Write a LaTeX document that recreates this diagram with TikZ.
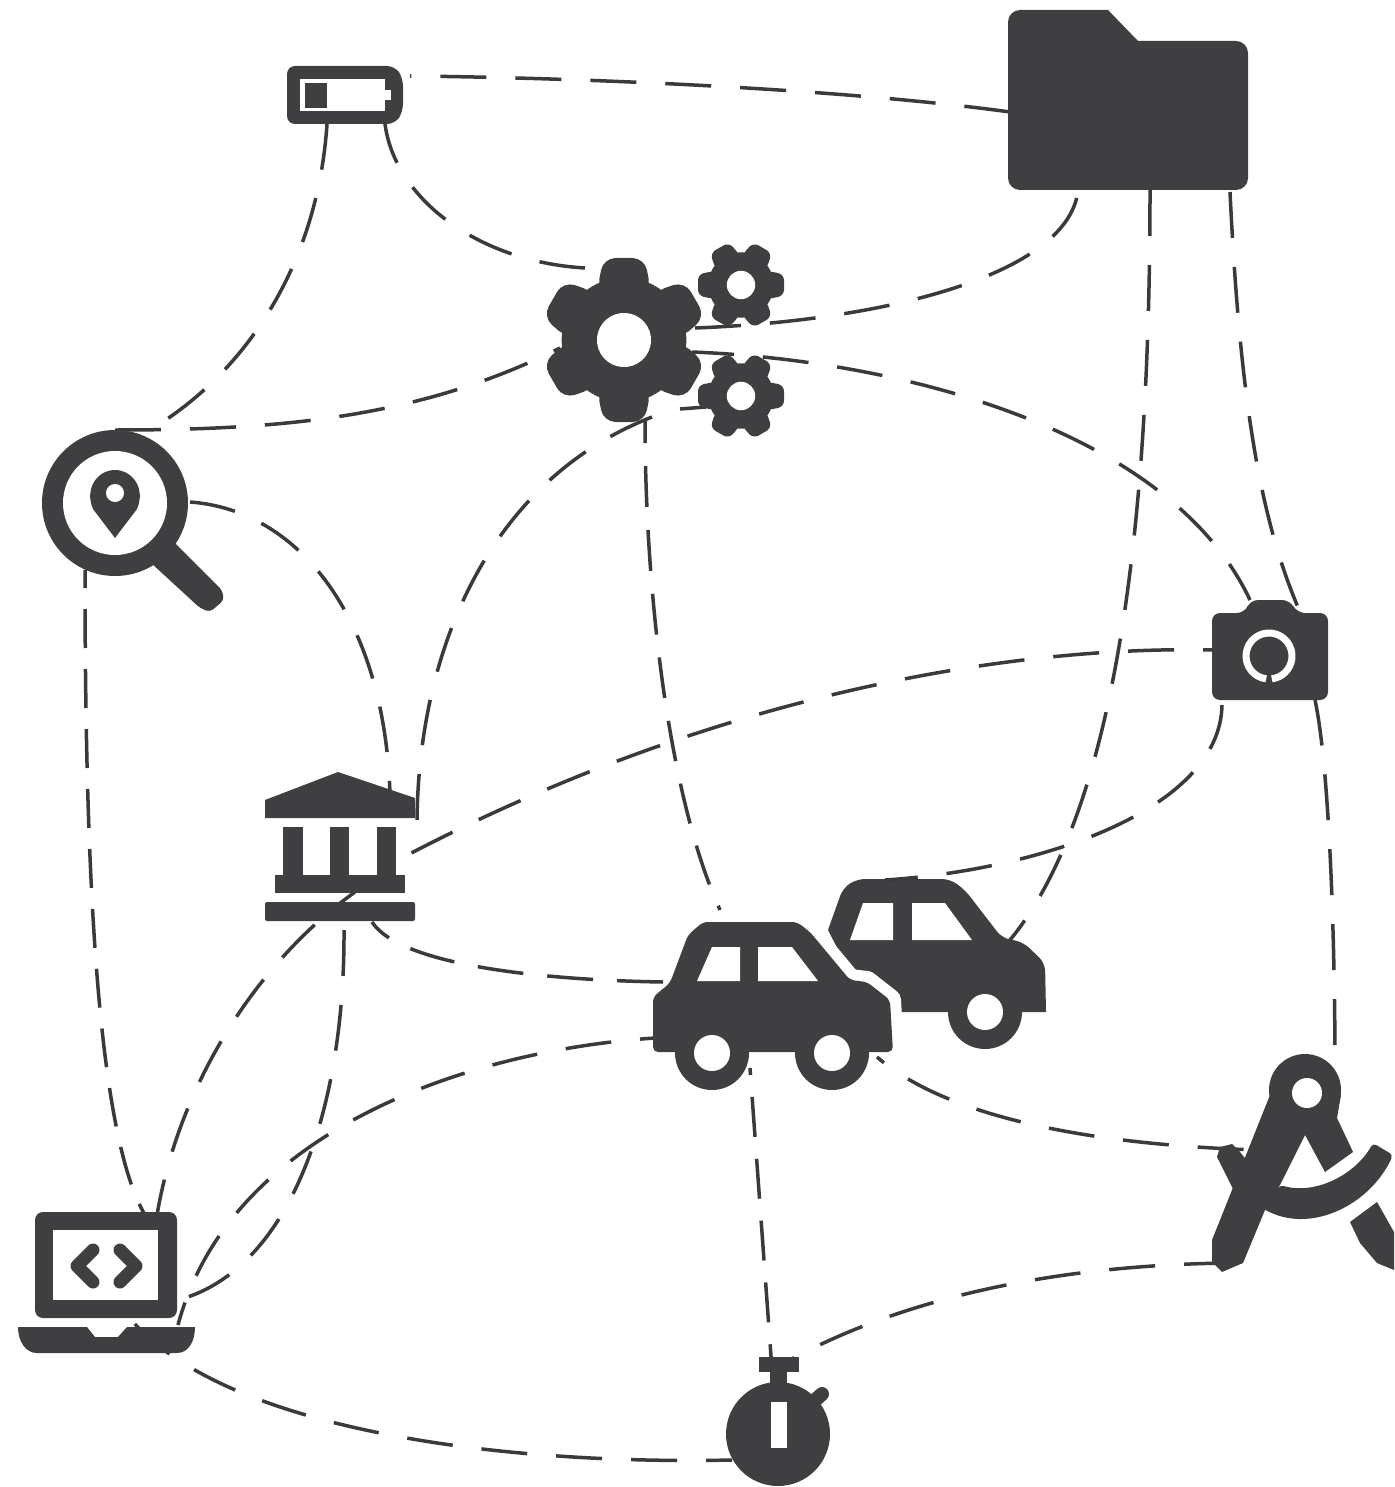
\documentclass[tikz,border=0pt]{standalone}
\usepackage{xcolor}
\definecolor{iconcol}{HTML}{3F3E41}
\definecolor{linkcol}{HTML}{3A3A3C}
\tikzset{
  link/.style={draw=linkcol, line width=3.5pt, dash pattern=on 46pt off 29pt},
  shortlink/.style={link, dash pattern=on 40pt off 22pt},
  icon/.style={fill=iconcol},
  hole/.style={fill=white},
  iconbox/.style={inner sep=0pt, outer sep=0pt},
}
\newcommand{\gearicon}[4]{%
  \begin{scope}[shift={(#1)}, scale=#2, rotate=#3]
    \fill[icon] (0,0) circle (0.76);
    \foreach \a in {0,60,...,300}
      \fill[icon, rounded corners=#4pt, rotate=\a] (0.6,-0.33) -- (1,-0.25) -- (1,0.25) -- (0.6,0.33) -- cycle;
    \fill[hole] (0,0) circle (0.33);
  \end{scope}
}
\newcommand{\wheelicon}[1]{%
  \fill[icon] (#1) circle (37);
  \fill[hole] (#1) circle (18);
}
\begin{document}
\begin{tikzpicture}[x=1pt, y=-1pt]
  \useasboundingbox (0,0) rectangle (1394,1487);
  \clip (0,0) rectangle (1394,1487);

  \node[iconbox, minimum width=114pt, minimum height=58pt] (battery) at (345,95) {};
  \node[iconbox, minimum width=240pt, minimum height=180pt] (folder) at (1128,100) {};
  \node[iconbox, minimum width=242pt, minimum height=192pt] (gears) at (664,341) {};
  \node[iconbox, minimum width=146pt, minimum height=146pt] (lens) at (115,503) {};
  \node[iconbox, minimum width=116pt, minimum height=100pt] (camera) at (1270,650) {};
  \node[iconbox, minimum width=150pt, minimum height=152pt] (bank) at (340,846) {};
  \node[iconbox, minimum width=241pt, minimum height=168pt] (carfront) at (772,1006) {};
  \node[iconbox, minimum width=216pt, minimum height=170pt] (carback) at (938,963) {};
  \node[iconbox, minimum width=179pt, minimum height=222pt] (compass) at (1304,1161) {};
  \node[iconbox, minimum width=176pt, minimum height=142pt] (laptop) at (106,1283) {};
  \node[iconbox, minimum width=107pt, minimum height=130pt] (watch) at (778,1422) {};

  % back car
  \fill[icon, rounded corners=8pt] (828,930) -- (843,888) -- (857,879) -- (950,879) -- (965,890) -- (1002,938) -- (1023,942) -- (1045,963) [sharp corners] -- (1046,1012) -- (870,1012) -- cycle;
  \fill[hole] (863,903) -- (893,903) -- (893,940) -- (850,940) -- cycle;
  \fill[hole] (912,903) -- (945,903) -- (972,940) -- (912,940) -- cycle;
  \wheelicon{985,1012}
  \draw[white, line width=22pt, line join=round] (653,1052) -- (653,997) -- (670,983) -- (688,935) -- (703,922) -- (797,922) -- (810,932) -- (850,980) -- (867,982) -- (890,1000) -- (893,1052) -- cycle;

  \draw[link] ([shift={(-118,12)}]folder.center) .. controls (850,90) and (600,78) .. ([shift={(65,-19)}]battery.center);
  \draw[link] ([shift={(-18,29)}]battery.center) .. controls (318,260) and (250,370) .. ([shift={(35,-73)}]lens.center);
  \draw[link] ([shift={(-79,-73)}]gears.center) .. controls (480,262) and (395,200) .. ([shift={(40,29)}]battery.center);
  \draw[link] ([shift={(31,-13)}]gears.center) .. controls (900,320) and (1070,270) .. ([shift={(-50,90)}]folder.center);
  \draw[link] ([shift={(22,90)}]folder.center) .. controls (1150,480) and (1125,800) .. ([shift={(72,-23)}]carback.center);
  \draw[link] ([shift={(102,92)}]folder.center) .. controls (1240,400) and (1260,520) .. ([shift={(30,-38)}]camera.center);
  \draw[link, dash phase=4pt] ([shift={(28,11)}]gears.center) .. controls (900,360) and (1170,430) .. ([shift={(-20,-50)}]camera.center);
  \draw[link, dash phase=39pt] ([shift={(-104,7)}]gears.center) .. controls (420,418) and (280,430) .. ([shift={(0,-73)}]lens.center);
  \draw[link] ([shift={(-12,76)}]gears.center) .. controls (490,480) and (417,650) .. ([shift={(77,-20)}]bank.center);
  \draw[link, dash pattern=on 41pt off 23pt, dash phase=18pt] ([shift={(-19,79)}]gears.center) .. controls (645,600) and (670,800) .. ([shift={(-52,-96)}]carfront.center);
  \draw[link] ([shift={(16,68)}]gears.center) -- ([shift={(42,66)}]gears.center);
  \draw[link] ([shift={(75,-1)}]lens.center) .. controls (300,510) and (385,620) .. ([shift={(50,-51)}]bank.center);
  \draw[link, dash pattern=on 39pt off 21pt, dash phase=21pt] ([shift={(-30,67)}]lens.center) .. controls (85,850) and (95,1130) .. ([shift={(39,-68)}]laptop.center);
  \draw[link, dash phase=34pt] ([shift={(-55,0)}]camera.center) .. controls (1000,645) and (700,700) .. ([shift={(58,14)}]bank.center);
  \draw[link] ([shift={(-48,55)}]camera.center) .. controls (1220,810) and (1040,870) .. ([shift={(-53,-83)}]carback.center);
  \draw[link] ([shift={(45,50)}]camera.center) .. controls (1330,770) and (1335,950) .. ([shift={(31,-91)}]compass.center);
  \draw[link, dash pattern=on 46pt off 24pt] ([shift={(-109,-24)}]carfront.center) .. controls (540,980) and (400,965) .. ([shift={(32,76)}]bank.center);
  \draw[link, dash phase=23pt] ([shift={(15,46)}]bank.center) .. controls (260,960) and (180,1080) .. ([shift={(51,-68)}]laptop.center);
  \draw[link] ([shift={(4,84)}]bank.center) .. controls (345,1110) and (290,1270) .. ([shift={(72,17)}]laptop.center);
  \draw[link, dash phase=31pt] ([shift={(-117,32)}]carfront.center) .. controls (470,1050) and (230,1130) .. ([shift={(72,42)}]laptop.center);
  \draw[shortlink, dash phase=33pt] ([shift={(-22,62)}]carfront.center) -- ([shift={(-6,-52)}]watch.center);
  \draw[link, dash phase=37pt] ([shift={(105,51)}]carfront.center) .. controls (950,1120) and (1100,1145) .. ([shift={(-46,-11)}]compass.center);
  \draw[link] ([shift={(-74,102)}]compass.center) .. controls (1050,1265) and (900,1300) .. ([shift={(12,-62)}]watch.center);
  \draw[link, dash phase=20pt] ([shift={(-46,38)}]watch.center) .. controls (500,1465) and (230,1430) .. ([shift={(27,39)}]laptop.center);

  % battery
  \fill[icon, rounded corners=8pt] (287,66) -- (395,66) -- (403,78) -- (403,112) -- (395,124) -- (287,124) -- cycle;
  \fill[hole] (300,79) rectangle (385,111);
  \fill[hole] (385,90) rectangle (391,100);
  \fill[icon] (305,83) rectangle (327,108);

  % folder
  \fill[icon, rounded corners=12pt] (1008,10) -- (1100,10) [sharp corners] -- (1108,10) -- (1138,41) [rounded corners=12pt] -- (1248,41) -- (1248,190) -- (1008,190) -- cycle;

  % gears
  \gearicon{624,340}{82}{30}{12}
  \gearicon{741,285}{43}{0}{6}
  \gearicon{741,396}{43}{0}{6}

  % lens
  \fill[icon] (115,503) circle (73);
  \fill[hole] (115,503) circle (52);
  \fill[icon, rounded corners=4pt] (150,562) -- (172,540) -- (222,590) -- (224,600) -- (210,612) -- (200,608) -- cycle;
  \fill[icon] (115,538) -- (93,509) .. controls (84,488) and (98,470) .. (115,470) .. controls (132,470) and (146,488) .. (137,509) -- cycle;
  \fill[hole] (115,493) circle (9);

  % camera
  \fill[icon, rounded corners=8pt] (1212,613) -- (1245,613) -- (1250,600) -- (1290,600) -- (1297,613) -- (1328,613) -- (1328,700) -- (1212,700) -- cycle;
  \draw[white, line width=7pt] (1269,656) ++(97:23) arc (97:443:23);

  % bank
  \fill[icon] (338,772) -- (415,798) -- (415,818) -- (265,818) -- (265,800) -- cycle;
  \fill[icon] (283,827) rectangle (303,875);
  \fill[icon] (330,827) rectangle (349,875);
  \fill[icon] (377,827) rectangle (396,875);
  \fill[icon] (275,875) rectangle (405,893);
  \fill[icon, rounded corners=2pt] (265,902) rectangle (415,921);

  % front car
  \fill[icon, rounded corners=5pt] (653,1052) -- (653,997) -- (670,983) -- (688,935) -- (703,922) -- (797,922) -- (810,932) -- (850,980) -- (867,982) -- (890,1000) -- (893,1052) -- cycle;
  \fill[hole] (712,947) -- (740,947) -- (740,981) -- (697,981) -- cycle;
  \fill[hole] (758,947) -- (792,947) -- (818,981) -- (758,981) -- cycle;
  \wheelicon{712,1053}
  \wheelicon{832,1053}

  % compass
  \fill[icon] (1305,1090) circle (36);
  \fill[icon] (1270,1095) -- (1341,1095) -- (1337,1118) -- (1353,1152) -- (1325,1172) -- (1305,1135) -- (1280,1185) -- (1265,1210) -- (1243,1263) -- (1222,1272) -- (1212,1262) -- (1212,1240) -- cycle;
  \fill[icon] (1220,1147) -- (1232,1144) -- (1240,1152) -- (1248,1162) -- (1260,1150) -- (1245,1200) -- (1235,1193) -- (1217,1157) -- cycle;
  \fill[icon, rounded corners=4pt] (1280,1185) .. controls (1315,1195) and (1355,1175) .. (1373,1143) -- (1393,1155) .. controls (1370,1205) and (1310,1235) .. (1262,1208) -- cycle;
  \fill[icon] (1350,1222) -- (1377,1202) -- (1394,1232) -- (1394,1270) -- (1377,1263) -- (1360,1243) -- cycle;
  \fill[hole] (1307,1093) circle (15);

  % laptop
  \fill[icon, rounded corners=8pt] (35,1318) -- (35,1212) -- (177,1212) -- (177,1318) -- cycle;
  \fill[hole] (53,1230) rectangle (158,1300);
  \draw[iconcol, line width=13pt, line cap=round, line join=round] (93,1250) -- (77,1266) -- (93,1282);
  \draw[iconcol, line width=13pt, line cap=round, line join=round] (120,1250) -- (136,1266) -- (120,1282);
  \fill[icon] (18,1327) -- (87,1327) -- (95,1337) -- (118,1337) -- (127,1327) -- (195,1327) .. controls (195,1342) and (188,1353) .. (177,1353) -- (37,1353) .. controls (26,1353) and (18,1342) .. (18,1327) -- cycle;

  % watch
  \fill[icon] (778,1434) circle (52);
  \fill[icon] (759,1357) rectangle (799,1372);
  \fill[icon] (770,1372) rectangle (787,1390);
  \draw[iconcol, line width=14pt, line cap=round] (812,1403) -- (822,1394);
  \fill[hole] (771,1402) rectangle (787,1448);
\end{tikzpicture}
\end{document}
